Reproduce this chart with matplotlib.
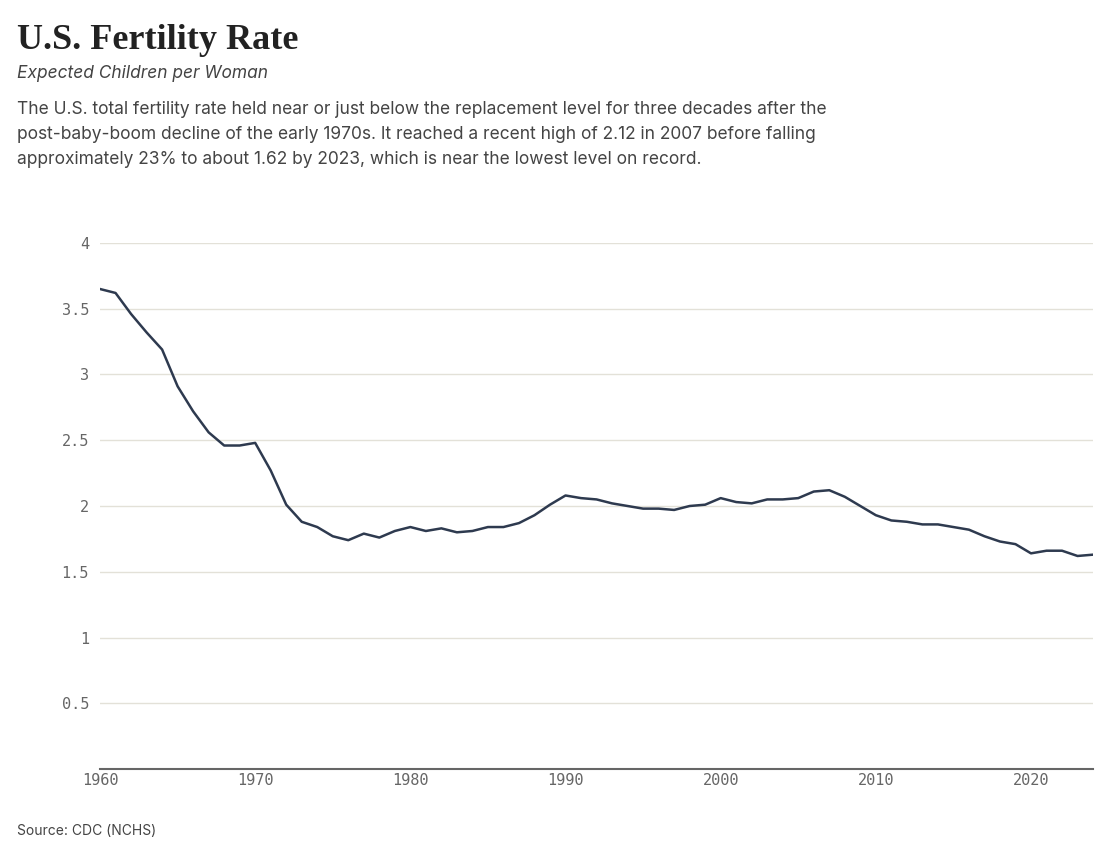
import matplotlib
matplotlib.use("Agg")
import matplotlib.pyplot as plt

years = list(range(1960, 2025))
tfr = [3.65, 3.62, 3.46, 3.32, 3.19, 2.91, 2.72, 2.56, 2.46, 2.46,
       2.48, 2.27, 2.01, 1.88, 1.84, 1.77, 1.74, 1.79, 1.76, 1.81,
       1.84, 1.81, 1.83, 1.80, 1.81, 1.84, 1.84, 1.87, 1.93, 2.01,
       2.08, 2.06, 2.05, 2.02, 2.00, 1.98, 1.98, 1.97, 2.00, 2.01,
       2.06, 2.03, 2.02, 2.05, 2.05, 2.06, 2.11, 2.12, 2.07, 2.00,
       1.93, 1.89, 1.88, 1.86, 1.86, 1.84, 1.82, 1.77, 1.73, 1.71,
       1.64, 1.66, 1.66, 1.62, 1.63]
yticks = [0.5, 1, 1.5, 2, 2.5, 3, 3.5, 4]
ytick_labels = ["0.5", "1", "1.5", "2", "2.5", "3", "3.5", "4"]
xticks = [1960, 1970, 1980, 1990, 2000, 2010, 2020]

fig = plt.figure(figsize=(11.14, 8.52), dpi=100)
ax = fig.add_axes([0.0898, 0.0974, 0.8914, 0.6174])
ax.plot(years, tfr, color="#2e3a4f", lw=1.8)
ax.set_xlim(1960, 2024)
ax.set_ylim(0, 4)
ax.set_yticks(yticks)
ax.set_yticklabels(ytick_labels)
ax.set_xticks(xticks)
ax.grid(axis="y", color="#e3e1d8", lw=1)
ax.set_axisbelow(True)
for s in ["top", "right", "left"]:
    ax.spines[s].set_visible(False)
ax.spines["bottom"].set_color("#666666")
ax.spines["bottom"].set_linewidth(1.5)
ax.tick_params(axis="y", length=0, pad=8)
ax.tick_params(axis="x", length=0, pad=3)
for lab in ax.get_xticklabels() + ax.get_yticklabels():
    lab.set_fontfamily("DejaVu Sans Mono")
    lab.set_fontsize(11)
    lab.set_color("#666666")

fig.text(0.015, 0.943, "U.S. Fertility Rate", fontsize=26, fontweight="bold",
         family="Liberation Serif", color="#222222")
fig.text(0.015, 0.909, "Expected Children per Woman", fontsize=12.5,
         style="italic", family="Inter", color="#444444")
fig.text(0.015, 0.808,
         "The U.S. total fertility rate held near or just below the replacement level for three decades after the\n"
         "post-baby-boom decline of the early 1970s. It reached a recent high of 2.12 in 2007 before falling\n"
         "approximately 23% to about 1.62 by 2023, which is near the lowest level on record.",
         fontsize=12.5, family="Inter", color="#444444", linespacing=1.6)
fig.text(0.015, 0.02, "Source: CDC (NCHS)", fontsize=10, family="Inter", color="#444444")

fig.savefig("out.png", dpi=100)
